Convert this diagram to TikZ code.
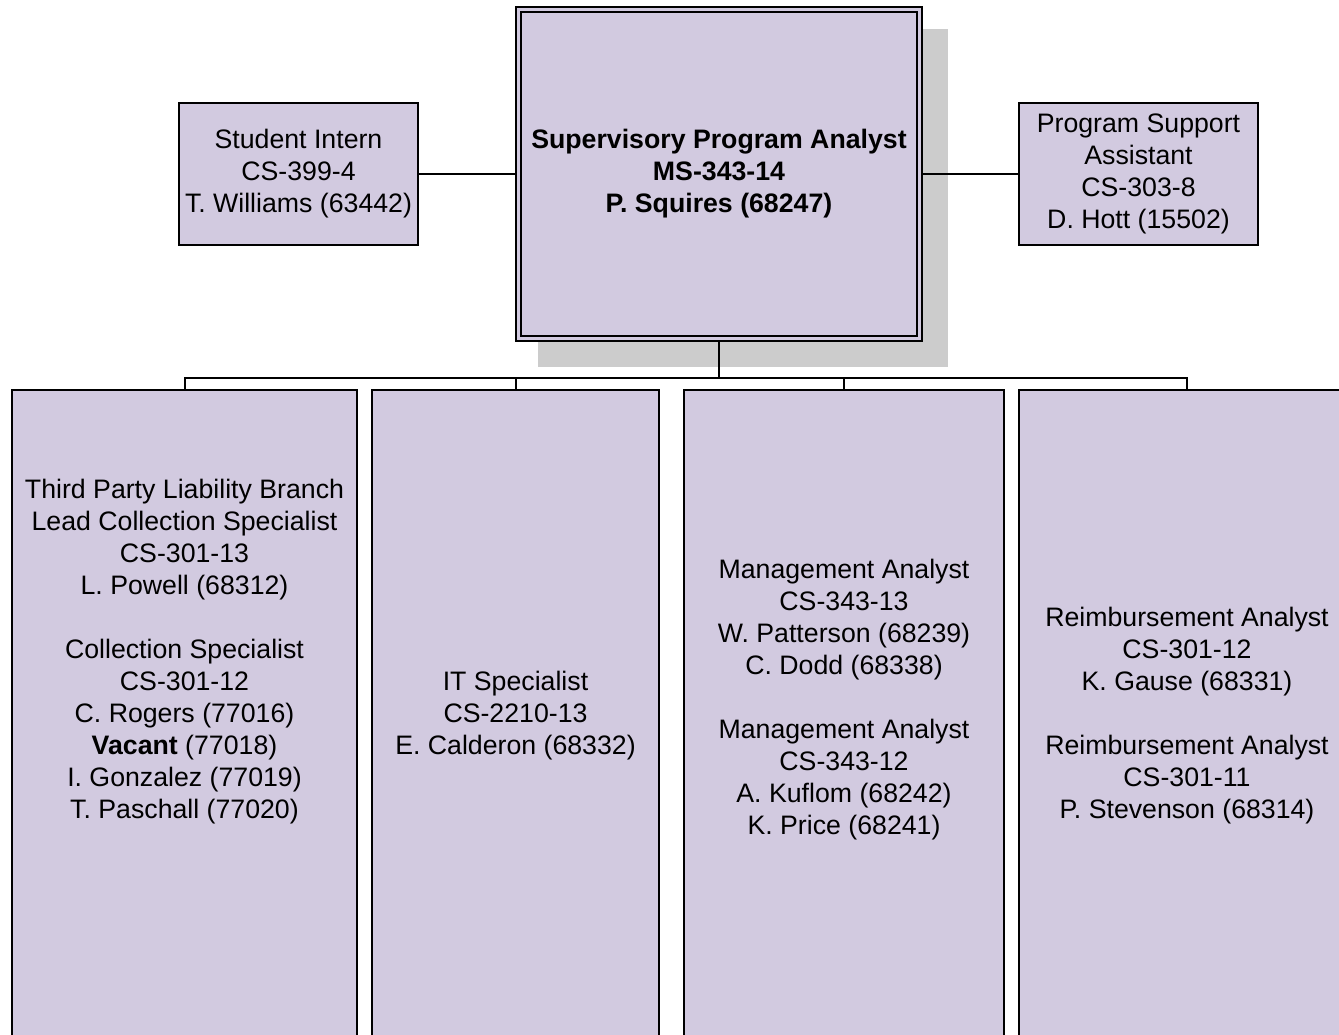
\documentclass[tikz,border=0pt]{standalone}
\usepackage{fontspec}
\setmainfont{Liberation Sans}
\usetikzlibrary{backgrounds}
\definecolor{lav}{RGB}{210,202,224}
\definecolor{shadegray}{RGB}{204,204,204}
\begin{document}
\begin{tikzpicture}[x=1pt,y=-1pt,
  box/.style={draw=black, line width=2pt, fill=lav, inner sep=0pt, outer sep=0pt, rectangle},
  txt/.style={align=center, font=\fontsize{26.7}{32}\selectfont, inner sep=0pt},
  conn/.style={draw=black, line width=2pt}]
\useasboundingbox (0,0) rectangle (1339,1035);
% top row
\node[box, txt, minimum width=406pt, minimum height=334pt] (sup) at (719,174)
  {\bfseries Supervisory Program Analyst\\\bfseries MS-343-14\\\bfseries P. Squires (68247)};
\draw[line width=2pt] ([shift={(5,5)}]sup.north west) rectangle ([shift={(-5,-5)}]sup.south east);
\begin{scope}[on background layer]
  \fill[shadegray] ([shift={(22,22)}]sup.north west) rectangle ([shift={(26,26)}]sup.south east);
\end{scope}
\node[box, txt, minimum width=239pt, minimum height=142pt] (intern) at (298.5,174)
  {Student Intern\\CS-399-4\\T. Williams (63442)};
\node[box, txt, minimum width=239pt, minimum height=142pt] (psa) at (1138.5,174)
  {Program Support\\Assistant\\CS-303-8\\D. Hott (15502)};
% bottom row
\node[box, minimum width=345pt, minimum height=680pt] (b1) at (184.5,730) {};
\node[box, minimum width=287pt, minimum height=680pt] (b2) at (515.5,730) {};
\node[box, minimum width=320pt, minimum height=680pt] (b3) at (844,730) {};
\node[box, minimum width=336pt, minimum height=680pt] (b4) at (1187,730) {};
\node[txt] (t1) at (184.5,652) {Third Party Liability Branch\\Lead Collection Specialist\\CS-301-13\\L. Powell (68312)\\[32pt]Collection Specialist\\CS-301-12\\C. Rogers (77016)\\\textbf{Vacant} (77018)\\I. Gonzalez (77019)\\T. Paschall (77020)};
\node[txt] (t2) at (515.5,716) {IT Specialist\\CS-2210-13\\E. Calderon (68332)};
\node[txt] (t3) at (844,700) {Management Analyst\\CS-343-13\\W. Patterson (68239)\\C. Dodd (68338)\\[32pt]Management Analyst\\CS-343-12\\A. Kuflom (68242)\\K. Price (68241)};
\node[txt] (t4) at (1187,716) {Reimbursement Analyst\\CS-301-12\\K. Gause (68331)\\[32pt]Reimbursement Analyst\\CS-301-11\\P. Stevenson (68314)};
% connectors
\coordinate (bus) at (719,378);
\draw[conn] (intern.east) -- (sup.west);
\draw[conn] (sup.east) -- (psa.west);
\draw[conn] (sup.south) -- (bus);
\draw[conn] (b1.north) -- (b1.north |- bus) -- (b4.north |- bus) -- (b4.north);
\draw[conn] (b2.north) -- (b2.north |- bus);
\draw[conn] (b3.north) -- (b3.north |- bus);
\end{tikzpicture}
\end{document}
